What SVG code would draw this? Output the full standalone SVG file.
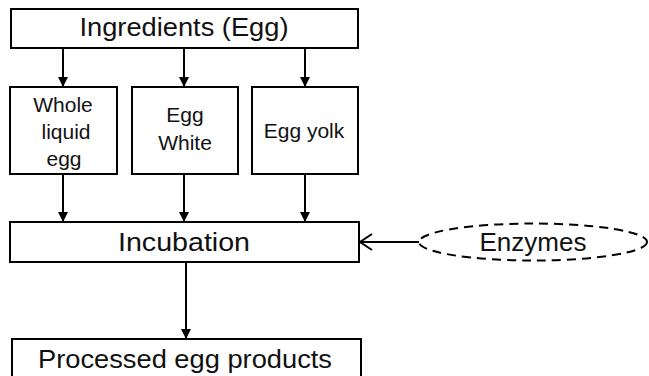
<svg xmlns="http://www.w3.org/2000/svg" width="649" height="376" viewBox="0 0 649 376">
  <style>
    .box { fill: #fff; stroke: #000; stroke-width: 2; }
    .lbl { font-family: "Liberation Sans", Arial, sans-serif; font-size: 25px; fill: #111; text-anchor: middle; }
    .sm { font-size: 21px; }
    .edge { stroke: #000; stroke-width: 2; fill: none; }
  </style>
  <defs>
    <marker id="tri" markerWidth="12" markerHeight="12" refX="10" refY="5" orient="auto" markerUnits="userSpaceOnUse">
      <path d="M0,0 L10,5 L0,10 Z" fill="#000"/>
    </marker>
    <marker id="open" markerWidth="16" markerHeight="20" refX="13" refY="9" orient="auto" markerUnits="userSpaceOnUse">
      <path d="M1,1 L13,9 L1,17" fill="none" stroke="#000" stroke-width="2"/>
    </marker>
  </defs>
  <rect width="649" height="376" fill="#fff"/>

  <g id="connectors">
    <line class="edge" x1="63" y1="48" x2="63" y2="87" marker-end="url(#tri)"/>
    <line class="edge" x1="184" y1="48" x2="184" y2="87" marker-end="url(#tri)"/>
    <line class="edge" x1="305" y1="48" x2="305" y2="87" marker-end="url(#tri)"/>
    <line class="edge" x1="63" y1="174" x2="63" y2="222" marker-end="url(#tri)"/>
    <line class="edge" x1="184" y1="174" x2="184" y2="222" marker-end="url(#tri)"/>
    <line class="edge" x1="305" y1="174" x2="305" y2="222" marker-end="url(#tri)"/>
    <line class="edge" x1="186" y1="262" x2="186" y2="339" marker-end="url(#tri)"/>
    <line class="edge" x1="419" y1="242" x2="360" y2="242" marker-end="url(#open)"/>
  </g>

  <g id="ingredients">
    <rect class="box" x="11" y="9" width="347" height="39"/>
    <text class="lbl" x="184" y="36" textLength="209" lengthAdjust="spacingAndGlyphs">Ingredients (Egg)</text>
  </g>
  <g id="whole">
    <rect class="box" x="10" y="87" width="107" height="87"/>
    <text class="lbl sm" x="63" y="112">Whole</text>
    <text class="lbl sm" x="66" y="139">liquid</text>
    <text class="lbl sm" x="64" y="166">egg</text>
  </g>
  <g id="white">
    <rect class="box" x="132" y="87" width="106" height="87"/>
    <text class="lbl sm" x="185" y="122">Egg</text>
    <text class="lbl sm" x="185" y="150">White</text>
  </g>
  <g id="yolk">
    <rect class="box" x="252" y="87" width="106" height="87"/>
    <text class="lbl sm" x="304" y="138">Egg yolk</text>
  </g>
  <g id="incubation">
    <rect class="box" x="10" y="222" width="349" height="40"/>
    <text class="lbl" x="184" y="251" textLength="132" lengthAdjust="spacingAndGlyphs">Incubation</text>
  </g>
  <g id="enzymes">
    <ellipse cx="533" cy="242" rx="114" ry="18.5" fill="#fff" stroke="#000" stroke-width="2" stroke-dasharray="9,6"/>
    <text class="lbl" x="533" y="251" textLength="107" lengthAdjust="spacingAndGlyphs">Enzymes</text>
  </g>
  <g id="processed">
    <rect class="box" x="12" y="339" width="349" height="44"/>
    <text class="lbl" x="185" y="368" textLength="294" lengthAdjust="spacingAndGlyphs">Processed egg products</text>
  </g>
</svg>
